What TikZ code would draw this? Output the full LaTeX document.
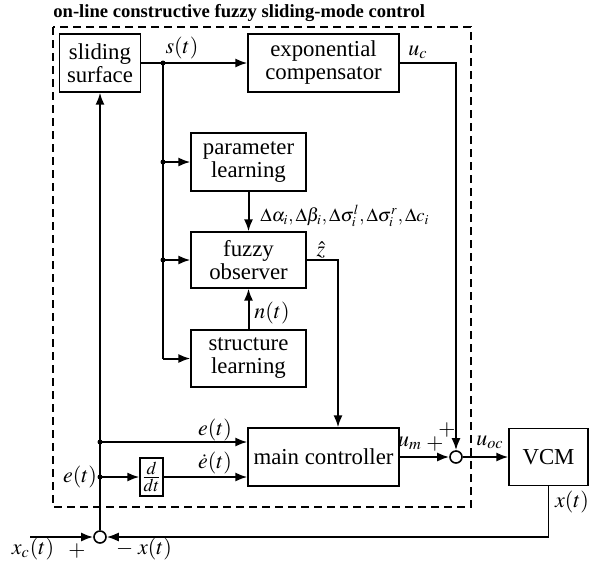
\documentclass[tikz,border=0pt]{standalone}
\usepackage{mathptmx}
\usepackage{fontspec}
\setmainfont{Liberation Serif}
\usetikzlibrary{arrows.meta}

\begin{document}
\begin{tikzpicture}[x=0.5pt,y=-0.5pt,
    block/.style={draw,line width=0.6pt,inner sep=0pt,align=center,font=\fontsize{11.4}{11.5}\selectfont},
    sumpt/.style={circle,draw,line width=0.8pt,inner sep=0pt,minimum size=6pt},
    sig/.style={line width=1pt,-{Latex[length=6pt,width=4.5pt]}},
    lbl/.style={font=\fontsize{11}{11}\selectfont,inner sep=0pt},
    dot/.style={circle,fill,inner sep=0pt,minimum size=2.5pt}]
  \useasboundingbox (0,0) rectangle (592,562);

  % controller frame
  \draw[line width=1pt,dash pattern=on 4pt off 2.5pt] (53,27) rectangle (471,507);
  \node[anchor=base west,inner sep=0pt,font=\bfseries\fontsize{9.3}{9.3}\selectfont] (title) at (53,18)
    {on-line constructive fuzzy sliding-mode control};

  % blocks
  \node[block,minimum width=40.5pt,minimum height=29pt] (ss) at (100,63) {sliding\\surface};
  \node[block,minimum width=75.5pt,minimum height=29pt] (ec) at (323.5,63) {exponential\\compensator};
  \node[block,minimum width=57.5pt,minimum height=29pt] (pl) at (248.5,162) {parameter\\learning};
  \node[block,minimum width=57.5pt,minimum height=28pt] (fo) at (248.5,260) {fuzzy\\observer};
  \node[block,minimum width=57.5pt,minimum height=28.5pt] (sl) at (248.5,358.5) {structure\\learning};
  \node[block,minimum width=75.5pt,minimum height=29pt] (mc) at (323.5,457) {main controller};
  \node[block,minimum width=11.5pt,minimum height=19pt,font=\fontsize{12}{12}\selectfont] (dd) at (151.5,477) {$\frac{d}{dt}$};
  \node[block,minimum width=39.5pt,minimum height=28.5pt] (vcm) at (548.5,457) {VCM};
  \node[sumpt] (s1) at (456,457) {};
  \node[sumpt] (s2) at (100,537) {};

  % branch points
  \coordinate (bs) at (163,63);
  \coordinate (bp) at (163,162);
  \coordinate (bo) at (163,260);
  \coordinate (bl) at (163,358.5);
  \coordinate (uc) at (456,63);
  \coordinate (zh) at (338,260);
  \coordinate (be) at (100,442);
  \coordinate (bd) at (100,477);
  \coordinate (xo) at (vcm.south |- s2);
  \coordinate (xc) at (30,537);

  % signals
  \draw[sig] (ss) -- (ec);
  \draw[line width=0.7pt] (bs) -- (bl);
  \draw[sig] (bp) -- (pl);
  \draw[sig] (bo) -- (fo);
  \draw[sig] (bl) -- (sl);
  \draw[sig] (pl) -- (fo);
  \draw[sig] (sl) -- (fo);
  \draw[sig] (ec.east) -- (uc) -- (s1);
  \draw[sig] (fo.east) -- (zh) -- (zh |- mc.north);
  \draw[sig] (mc) -- (s1);
  \draw[sig] (s1) -- (vcm);
  \draw[line width=0.8pt,-{Latex[length=6pt,width=4.5pt]}] (vcm.south) -- (xo) -- (s2);
  \draw[sig] (xc) -- (s2);
  \draw[sig] (s2) -- (ss);
  \draw[sig] (be) -- (be -| mc.west);
  \draw[sig] (bd) -- (dd);
  \draw[sig] (dd) -- (dd -| mc.west);
  \foreach \p in {bs,bp,bo,be,bd} \node[dot] at (\p) {};

  % labels
  \node[lbl] (ls) at (182,48) {$s(t)$};
  \node[lbl] (luc) at (418,52) {$u_c$};
  \node[lbl,anchor=west,font=\fontsize{9.3}{9.3}\selectfont] (ldelta) at (260,216)
    {$\Delta\alpha_i,\Delta\beta_i,\Delta\sigma_i^l,\Delta\sigma_i^r,\Delta c_i$};
  \node[lbl] (lz) at (321,250) {$\hat z$};
  \node[lbl] (ln) at (272,313) {$n(t)$};
  \node[lbl] (le) at (215,430) {$e(t)$};
  \node[lbl] (led) at (215,463) {$\dot e(t)$};
  \node[lbl] (le2) at (80,477) {$e(t)$};
  \node[lbl] (lum) at (410,443) {$u_m$};
  \node[lbl] (lp1) at (435,444) {$+$};
  \node[lbl] (lp2) at (447,430) {$+$};
  \node[lbl] (luoc) at (490,442) {$u_{oc}$};
  \node[lbl] (lx) at (572,502) {$x(t)$};
  \node[lbl] (lxc) at (33,549) {$x_c(t)$};
  \node[lbl] (lp3) at (77,551) {$+$};
  \node[lbl] (lmx) at (144,549) {$-\;x(t)$};
\end{tikzpicture}
\end{document}
